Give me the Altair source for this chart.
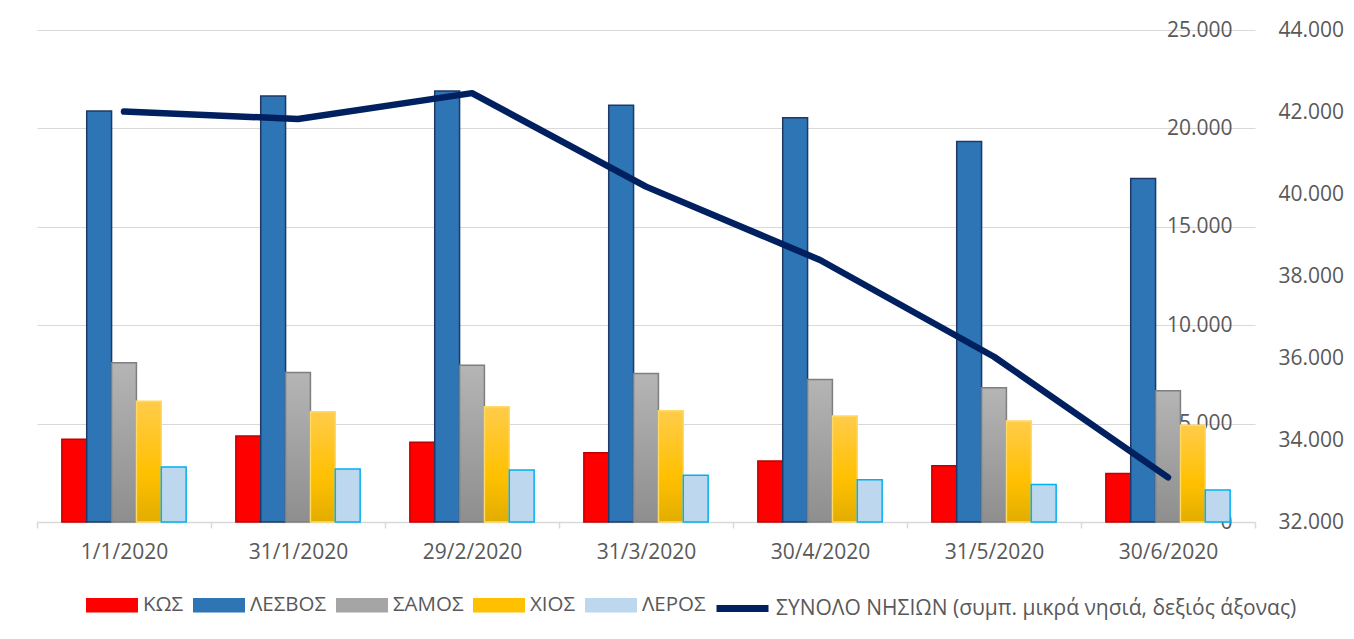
import altair as alt
import pandas as pd

# ---- data ----
dates = ["1/1/2020", "31/1/2020", "29/2/2020", "31/3/2020", "30/4/2020", "31/5/2020", "30/6/2020"]
series = ["ΚΩΣ", "ΛΕΣΒΟΣ", "ΣΑΜΟΣ", "ΧΙΟΣ", "ΛΕΡΟΣ"]
kos = [4200, 4370, 4050, 3520, 3100, 2860, 2470]
lesvos = [20880, 21640, 21900, 21170, 20540, 19340, 17450]
samos = [8090, 7600, 7970, 7550, 7240, 6820, 6670]
chios = [6130, 5600, 5850, 5650, 5380, 5130, 4920]
leros = [2790, 2690, 2640, 2370, 2150, 1910, 1620]
total_label = "ΣΥΝΟΛΟ ΝΗΣΙΩΝ (συμπ. μικρά νησιά, δεξιός άξονας)"
total = [42010, 41830, 42460, 40180, 38390, 36030, 33090]

# ---- styles ----
fills = ["#FF0000", "#2E75B6", "#A5A5A5", "#FFC000", "#BDD7EE"]
strokes = ["#C00000", "#1F3864", "#7F7F7F", "#FFD966", "#00B0F0"]
navy = "#002060"
text_color = "#595959"
grid_color = "#D9D9D9"
font = "Open Sans"

gray_grad = {"gradient": "linear", "x1": 0, "y1": 0, "x2": 0, "y2": 1,
             "stops": [{"offset": 0, "color": "#B5B5B5"}, {"offset": 1, "color": "#8E8E8E"}]}
yellow_grad = {"gradient": "linear", "x1": 0, "y1": 0, "x2": 0, "y2": 1,
               "stops": [{"offset": 0, "color": "#FFCC4A"}, {"offset": 0.6, "color": "#FFC000"},
                         {"offset": 1, "color": "#E2AD00"}]}

values = [kos, lesvos, samos, chios, leros]
bar_rows = []
for s, vals in zip(series, values):
    for d, v in zip(dates, vals):
        bar_rows.append({"date": d, "series": s, "value": v})
bar_df = pd.DataFrame(bar_rows)
line_df = pd.DataFrame({"date": dates, "total": total, "series": [total_label] * len(dates)})

rect_path = "M-1,-0.28L1,-0.28L1,0.28L-1,0.28Z"

x_enc = alt.X(
    "date:N", sort=dates, title=None,
    scale=alt.Scale(paddingInner=0, paddingOuter=0),
    axis=alt.Axis(labelAngle=0, tickBand="extent", domainColor=grid_color, domainWidth=1.5,
                  tickColor=grid_color, tickSize=6, tickWidth=1.5, labelColor=text_color,
                  labelFont=font, labelFontSize=21, labelPadding=13, grid=False),
)

bars = alt.Chart(bar_df).mark_bar(strokeWidth=1.5).encode(
    x=x_enc,
    xOffset=alt.XOffset("series:N", sort=series, scale=alt.Scale(paddingInner=0, paddingOuter=1)),
    y=alt.Y("value:Q", title=None,
            scale=alt.Scale(domain=[0, 25000]),
            axis=alt.Axis(orient="right", values=[0, 5000, 10000, 15000, 20000, 25000],
                          labelExpr="replace(format(datum.value, ','), ',', '.')",
                          grid=True, gridColor=grid_color, gridWidth=1.2, domain=False, ticks=False,
                          tickSize=0, labelPadding=-23, labelAlign="right", labelColor=text_color,
                          labelFont=font, labelFontSize=21)),
    color=alt.Color("series:N", scale=alt.Scale(domain=series, range=fills), sort=series,
                    condition=[{"test": f"datum.series === {series[2]!r}", "value": gray_grad},
                               {"test": f"datum.series === {series[3]!r}", "value": yellow_grad}],
                    legend=alt.Legend(title=None, orient="none", legendX=49, legendY=549,
                                      direction="horizontal", symbolType=rect_path, symbolSize=2704,
                                      symbolStrokeWidth=0, symbolOpacity=1,
                                      labelFont=font, labelFontSize=20.5, labelColor=text_color,
                                      columnPadding=9, labelOffset=5, padding=0, labelLimit=800)),
    stroke=alt.Stroke("series:N", scale=alt.Scale(domain=series, range=strokes), legend=None),
)

line = alt.Chart(line_df).mark_line(strokeWidth=6.5, strokeCap="round", strokeJoin="round").encode(
    x=alt.X("date:N", sort=dates, title=None),
    y=alt.Y("total:Q", title=None,
            scale=alt.Scale(domain=[32000, 44000]),
            axis=alt.Axis(orient="right", values=[32000, 34000, 36000, 38000, 40000, 42000, 44000],
                          labelExpr="replace(format(datum.value, ','), ',', '.')",
                          grid=False, domain=False, ticks=False, tickSize=0, labelPadding=23,
                          labelAlign="left", labelColor=text_color, labelFont=font, labelFontSize=21)),
    stroke=alt.Stroke("series:N", scale=alt.Scale(domain=[total_label], range=[navy]),
                      legend=alt.Legend(title=None, orient="none", legendX=676, legendY=549,
                                        direction="horizontal", symbolType="stroke", symbolSize=2704,
                                        symbolStrokeWidth=7, symbolOpacity=1,
                                        labelFont=font, labelFontSize=21, labelColor=text_color,
                                        labelOffset=4, padding=0, labelLimit=800)),
)

chart = alt.layer(bars, line).resolve_scale(y="independent", stroke="independent").properties(
    width=1218, height=492,
    autosize=alt.AutoSizeParams(type="none"),
    padding={"left": 29, "top": 22, "right": 91, "bottom": 109},
    background="white",
).configure_view(stroke=None)

chart.save("out.html", embed_options={"renderer": "svg", "actions": False})
